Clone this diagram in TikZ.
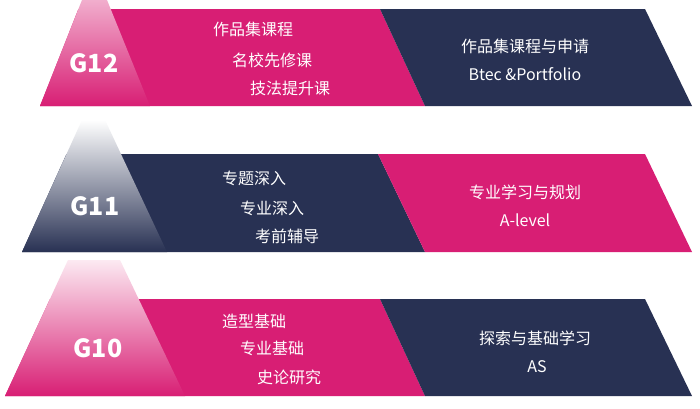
\documentclass[tikz,border=0pt]{standalone}
\usepackage{fontspec}
\setmainfont{Noto Sans CJK SC}
\definecolor{pinkc}{HTML}{D81E74}
\definecolor{navyc}{HTML}{283153}
\definecolor{pinktop}{HTML}{F1AECD}
\definecolor{palepink}{HTML}{FCEAF2}
\tikzset{
  txt/.style={text=white, inner sep=0pt, font=\fontsize{16}{19}\selectfont},
  lefttxt/.style={txt, anchor=west},
  glabel/.style={text=white, inner sep=0pt, font=\fontsize{25}{28}\selectfont\bfseries},
}
\begin{document}
\begin{tikzpicture}[x=1pt,y=-1pt]
\useasboundingbox (0,0) rectangle (700,408);
\fill[white] (0,0) rectangle (700,408);
% ---------- Row G12 ----------
\fill[pinkc] (78.4,9) -- (380,9) -- (425,106) -- (40,106) -- cycle;
\fill[navyc] (380,9) -- (645,9) -- (692,106) -- (425,106) -- cycle;
\shade[top color=pinktop, bottom color=pinkc] (82,0) -- (107,0) -- (150,106) -- (40,106) -- cycle;
% ---------- Row G11 ----------
\fill[navyc] (66.5,154) -- (378,154) -- (425,252) -- (22,252) -- cycle;
\fill[pinkc] (378,154) -- (645,154) -- (692,252) -- (425,252) -- cycle;
\shade[top color=white, bottom color=navyc] (82,120) -- (105,120) -- (167,252) -- (22,252) -- cycle;
% ---------- Row G10 ----------
\fill[pinkc] (50,299) -- (380,299) -- (425,396) -- (5,396) -- cycle;
\fill[navyc] (380,299) -- (645,299) -- (692,396) -- (425,396) -- cycle;
\shade[top color=palepink, bottom color=pinkc] (68,260) -- (120,260) -- (185,396) -- (5,396) -- cycle;
% ---------- Labels ----------
\node[glabel] (g12) at (94,63) {G12};
\node[glabel] (g11) at (95,206) {G11};
\node[glabel] (g10) at (98,348) {G10};
% Row 1 texts
\node[lefttxt] (a1) at (213,29) {作品集课程};
\node[lefttxt] (a2) at (232,60) {名校先修课};
\node[lefttxt] (a3) at (250,88) {技法提升课};
\node[txt] (ar1) at (525,46) {作品集课程与申请};
\node[txt] (ar2) at (525,74) {Btec \&Portfolio};
% Row 2 texts
\node[lefttxt] (b1) at (222,178) {专题深入};
\node[lefttxt] (b2) at (240,208) {专业深入};
\node[lefttxt] (b3) at (255,236) {考前辅导};
\node[txt] (br1) at (525,192) {专业学习与规划};
\node[txt] (br2) at (525,220) {A-level};
% Row 3 texts
\node[lefttxt] (c1) at (222,321) {造型基础};
\node[lefttxt] (c2) at (240,348) {专业基础};
\node[lefttxt] (c3) at (257,377) {史论研究};
\node[txt] (cr1) at (535,338) {探索与基础学习};
\node[txt] (cr2) at (537,367) {AS};
\end{tikzpicture}
\end{document}
